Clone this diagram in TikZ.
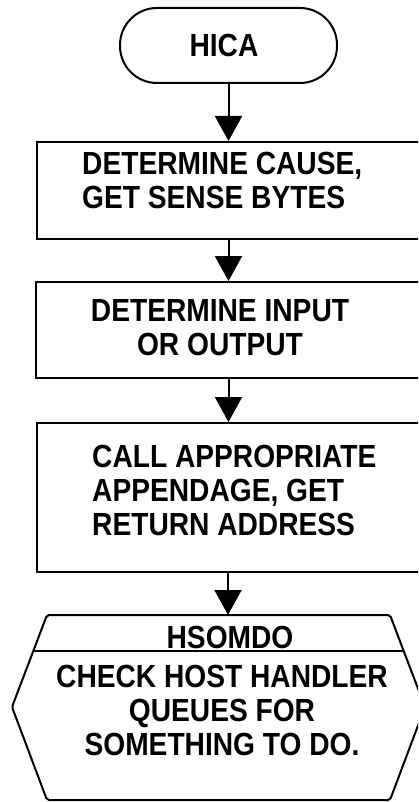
\documentclass[tikz,border=0pt]{standalone}
\usepackage{fontspec}
\setmainfont[FakeStretch=0.88]{Liberation Sans}
\usetikzlibrary{arrows.meta}
\begin{document}
\begin{tikzpicture}[x=1pt,y=-1pt,
  box/.style={draw, line width=2pt, rectangle, inner sep=0pt},
  lbl/.style={inner sep=0pt, font=\fontsize{32}{34}\selectfont\bfseries},
  arr/.style={line width=2pt, -{Triangle[width=27pt,length=25pt]}}]
\useasboundingbox (0,0) rectangle (418,802);
\clip (0,0) rectangle (418,802);
% start terminal
\node[box, rounded corners=37pt, minimum width=217pt, minimum height=75pt] (hica) at (228.5,45.5) {};
\node[lbl] (hicat) at (224,45) {HICA};
% process boxes
\node[box, minimum width=403pt, minimum height=97pt] (b1) at (238.5,190.5) {};
\node[lbl, anchor=north west, align=left] (b1t) at (82,151.5) {DETERMINE CAUSE,\\GET SENSE BYTES};
\node[box, minimum width=404pt, minimum height=96pt] (b2) at (238,330) {};
\node[lbl, anchor=north, align=center] (b2t) at (220,299.5) {DETERMINE INPUT\\OR OUTPUT};
\node[box, minimum width=403pt, minimum height=149pt] (b3) at (238.5,497.5) {};
\node[lbl, anchor=north west, align=left] (b3t) at (92,444.5) {CALL APPROPRIATE\\APPENDAGE, GET\\RETURN ADDRESS};
% hexagon (predefined process)
\coordinate (hex) at (228,615);
\draw[line width=2pt, rounded corners=2pt] (47,615) -- (390,615) -- (425,707) -- (390,800) -- (47,800) -- (12,707) -- cycle;
\draw[line width=2pt] (33.3,651) -- (403.7,651);
\node[lbl] (hsomdo) at (230,637) {HSOMDO};
\node[lbl, anchor=north, align=center] (hext) at (222,664.5) {CHECK HOST HANDLER\\QUEUES FOR\\SOMETHING TO DO.};
% connectors
\draw[arr] (hica.south) -- (hica.south |- b1.north);
\draw[arr] (b1.south -| hica.south) -- (hica.south |- b2.north);
\draw[arr] (b2.south -| hica.south) -- (hica.south |- b3.north);
\draw[arr] (b3.south -| hex) -- (hex);
\end{tikzpicture}
\end{document}
